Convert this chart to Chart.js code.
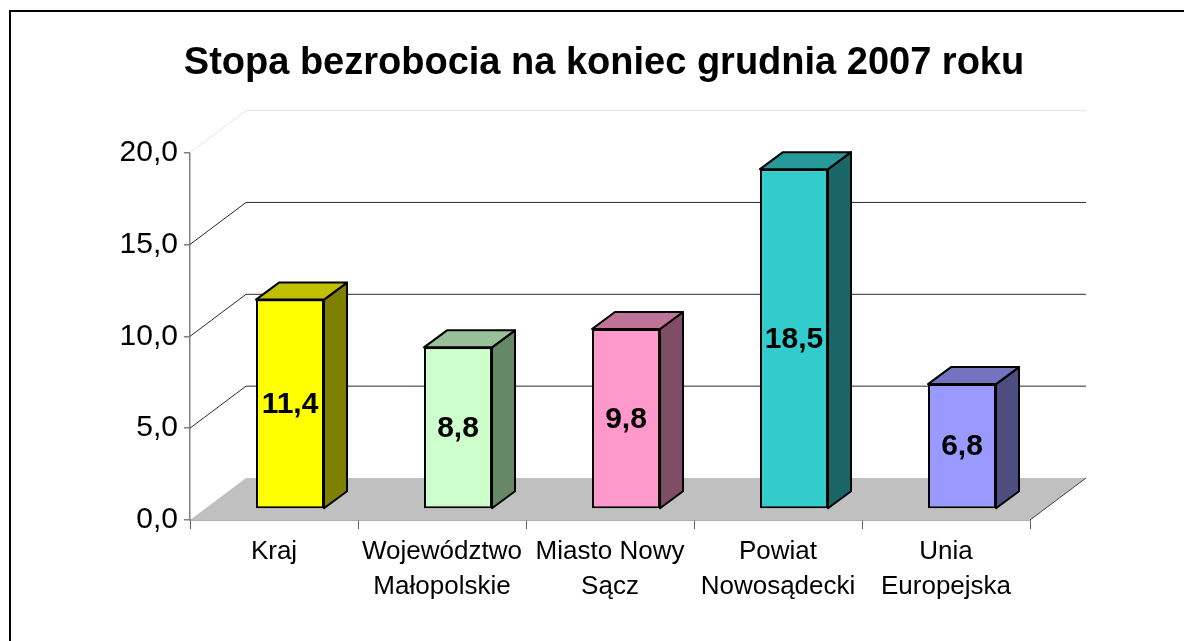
<!DOCTYPE html>
<html>
<head>
<meta charset="utf-8">
<script src="https://cdn.jsdelivr.net/npm/chart.js@4.4.0/dist/chart.umd.min.js"></script>
<style>
  html, body { margin: 0; padding: 0; background: #fff; overflow: hidden; }
  #wrap { position: relative; width: 1184px; height: 641px; }
</style>
</head>
<body>
<div id="wrap"><canvas id="rateChart"></canvas></div>
<script>
const categories = [['Kraj'], ['Województwo', 'Małopolskie'], ['Miasto Nowy', 'Sącz'], ['Powiat', 'Nowosądecki'], ['Unia', 'Europejska']];
const rates = [11.4, 8.8, 9.8, 18.5, 6.8];
const yTickLabels = ['0,0', '5,0', '10,0', '15,0', '20,0'];

const frontColors = ['#ffff00', '#ccffcc', '#ff99cc', '#33cccc', '#9999ff'];
const sideColors = ['#808000', '#668866', '#804d66', '#1a6666', '#4d4d80'];
const topColors = ['#c0c000', '#99c099', '#c07399', '#269999', '#7373c0'];

const FONT = '"Liberation Sans", Arial, sans-serif';
const shift = { x: 16, y: -11 };  // bars stand a bit behind the floor edge
const depth = { x: 23, y: -17 };  // bar thickness
const wall = { x: 56, y: -42 };   // back wall offset

const fmt = v => v.toFixed(1).replace('.', ',');

const box3d = {
  id: 'box3d',
  beforeDraw(chart) {
    const ctx = chart.ctx;
    ctx.save();
    ctx.strokeStyle = '#000';
    ctx.lineWidth = 2;
    ctx.strokeRect(10, 11, 1400, 900);
    ctx.restore();
  },
  beforeDatasetsDraw(chart) {
    const { ctx, chartArea: a, scales: { y } } = chart;
    const y0 = y.getPixelForValue(0);
    ctx.save();
    // floor
    ctx.fillStyle = '#c0c0c0';
    ctx.beginPath();
    ctx.moveTo(a.left, y0);
    ctx.lineTo(a.right, y0);
    ctx.lineTo(a.right + wall.x, y0 + wall.y);
    ctx.lineTo(a.left + wall.x, y0 + wall.y);
    ctx.closePath();
    ctx.fill();
    ctx.strokeStyle = '#404040';
    ctx.lineWidth = 1;
    ctx.beginPath();
    ctx.moveTo(a.right, y0);
    ctx.lineTo(a.right + wall.x, y0 + wall.y);
    ctx.stroke();
    // grid lines on the side and back wall
    y.ticks.forEach(t => {
      if (t.value === 0) return;
      const py = y.getPixelForValue(t.value);
      ctx.strokeStyle = t.value === 20 ? '#e4e4e4' : '#2a2a2a';
      ctx.beginPath();
      ctx.moveTo(a.left, py);
      ctx.lineTo(a.left + wall.x, py + wall.y);
      ctx.lineTo(a.right + wall.x, py + wall.y);
      ctx.stroke();
    });
    ctx.restore();
    ctx.save();
    ctx.translate(shift.x, shift.y);
  },
  afterDatasetsDraw(chart) {
    const ctx = chart.ctx;
    const meta = chart.getDatasetMeta(0);
    meta.data.forEach((bar, i) => {
      const { x, y, base, width } = bar.getProps(['x', 'y', 'base', 'width'], true);
      const l = x - width / 2, r = x + width / 2;
      ctx.lineWidth = 2;
      ctx.strokeStyle = '#000';
      ctx.lineJoin = 'round';
      // side
      ctx.fillStyle = sideColors[i];
      ctx.beginPath();
      ctx.moveTo(r, base);
      ctx.lineTo(r, y);
      ctx.lineTo(r + depth.x, y + depth.y);
      ctx.lineTo(r + depth.x, base + depth.y);
      ctx.closePath();
      ctx.fill();
      ctx.stroke();
      // top
      ctx.fillStyle = topColors[i];
      ctx.beginPath();
      ctx.moveTo(l, y);
      ctx.lineTo(r, y);
      ctx.lineTo(r + depth.x, y + depth.y);
      ctx.lineTo(l + depth.x, y + depth.y);
      ctx.closePath();
      ctx.fill();
      ctx.stroke();
      // value label
      ctx.fillStyle = '#000';
      ctx.font = 'bold 30px ' + FONT;
      ctx.textAlign = 'center';
      ctx.textBaseline = 'middle';
      ctx.fillText(fmt(rates[i]), x, (y + base) / 2 + 1);
    });
    ctx.restore();
  }
};

new Chart(document.getElementById('rateChart'), {
  type: 'bar',
  data: {
    labels: categories,
    datasets: [{
      data: rates,
      backgroundColor: frontColors,
      borderColor: '#000',
      borderWidth: 2,
      borderSkipped: false,
      barPercentage: 0.405,
      categoryPercentage: 1,
      clip: false
    }]
  },
  options: {
    responsive: true,
    maintainAspectRatio: false,
    animation: false,
    // 24px left padding puts the title centre where the original has it
    layout: { padding: { left: 24, right: 0, top: 0, bottom: 0 } },
    plugins: {
      legend: { display: false },
      tooltip: { enabled: false },
      title: {
        display: true,
        text: 'Stopa bezrobocia na koniec grudnia 2007 roku',
        color: '#000',
        font: { family: FONT, size: 38, weight: 'bold', lineHeight: 1.2 },
        padding: { top: 41, bottom: 66 }
      }
    },
    scales: {
      x: {
        ticks: {
          color: '#000',
          font: { family: FONT, size: 26, lineHeight: 1.32 },
          padding: 6,
          maxRotation: 0,
          autoSkip: false
        },
        grid: { drawOnChartArea: false, tickLength: 9, color: '#606060', offset: true },
        border: { color: '#606060', width: 1.5 },
        afterFit(scale) { scale.height = 121; }
      },
      y: {
        min: 0,
        max: 20,
        ticks: {
          stepSize: 5,
          color: '#000',
          font: { family: FONT, size: 30 },
          padding: 6,
          callback: (v, i) => yTickLabels[i]
        },
        grid: { drawOnChartArea: false, tickLength: 6, color: '#808080', lineWidth: 1.5 },
        border: { color: '#808080', width: 1.5 },
        afterFit(scale) { scale.width = 166; }
      },
      // empty right-hand axis, only reserves the space right of the floor
      yRight: {
        position: 'right',
        min: 0,
        max: 20,
        ticks: { display: false },
        grid: { display: false },
        border: { display: false },
        afterFit(scale) { scale.width = 154; }
      }
    }
  },
  plugins: [box3d]
});
</script>
</body>
</html>
